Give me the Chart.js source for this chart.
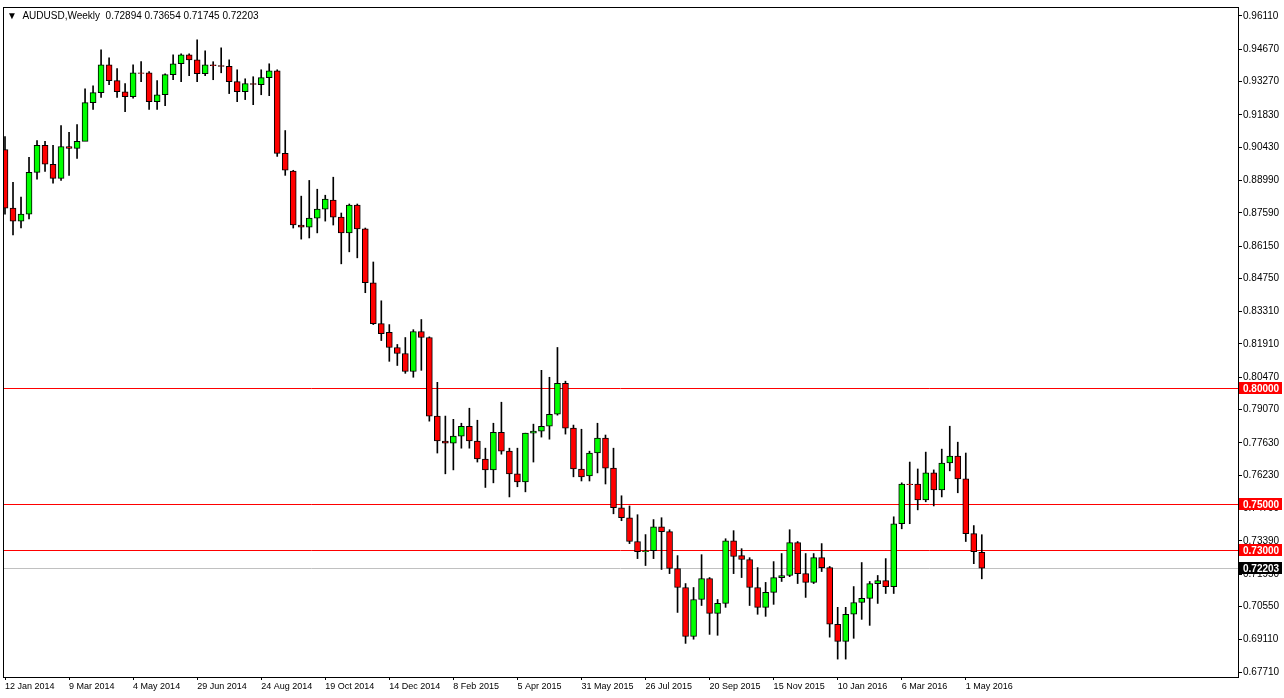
<!DOCTYPE html>
<html>
<head>
<meta charset="utf-8">
<script src="https://cdn.jsdelivr.net/npm/chart.js@4.4.1/dist/chart.umd.min.js"></script>
<style>
  html, body { margin: 0; padding: 0; background: #fff; }
  #wrap { width: 1284px; height: 698px; }
</style>
</head>
<body>
<div id="wrap"><canvas id="chart" width="1284" height="698"></canvas></div>
<script>
// weekly AUDUSD candles, first week 12 Jan 2014
const opens = [0.9033,0.8779,0.8723,0.8753,0.8934,0.9051,0.8969,0.8908,0.9046,0.9038,
  0.9068,0.9236,0.9279,0.9400,0.9331,0.9283,0.9262,0.9365,0.9365,0.9240,
  0.9270,0.9357,0.9404,0.9443,0.9421,0.9361,0.9400,0.9396,0.9393,0.9327,
  0.9283,0.9318,0.9314,0.9344,0.9374,0.9016,0.8939,0.8706,0.8697,0.8736,
  0.8775,0.8814,0.8740,0.8672,0.8792,0.8689,0.8456,0.8279,0.8241,0.8176,
  0.8150,0.8072,0.8245,0.8219,0.7879,0.7771,0.7762,0.7792,0.7835,0.7771,
  0.7693,0.7646,0.7809,0.7727,0.7629,0.7594,0.7805,0.7814,0.7835,0.7887,
  0.8021,0.7827,0.7650,0.7620,0.7719,0.7784,0.7654,0.7482,0.7439,0.7336,
  0.7292,0.7296,0.7400,0.7379,0.7219,0.7137,0.6925,0.7085,0.7176,0.7025,
  0.7068,0.7339,0.7275,0.7258,0.7137,0.7051,0.7116,0.7180,0.7189,0.7331,
  0.7197,0.7159,0.7266,0.7223,0.6978,0.6904,0.7021,0.7072,0.7090,0.7154,
  0.7167,0.7141,0.7413,0.7585,0.7585,0.7516,0.7633,0.7559,0.7676,0.7706,
  0.7607,0.7370,0.72894];
const highs = [0.9089,0.8891,0.8827,0.8999,0.9072,0.9068,0.9051,0.9137,0.9107,0.9141,
  0.9296,0.9309,0.9464,0.9430,0.9383,0.9318,0.9400,0.9413,0.9370,0.9331,
  0.9361,0.9443,0.9447,0.9447,0.9508,0.9460,0.9413,0.9473,0.9421,0.9378,
  0.9339,0.9348,0.9378,0.9404,0.9378,0.9115,0.8943,0.8831,0.8899,0.8861,
  0.8835,0.8913,0.8758,0.8797,0.8797,0.8693,0.8546,0.8378,0.8275,0.8189,
  0.8219,0.8253,0.8297,0.8222,0.8025,0.7879,0.7865,0.7848,0.7913,0.7861,
  0.7740,0.7848,0.7939,0.7740,0.7740,0.7805,0.7844,0.8077,0.8047,0.8176,
  0.8030,0.7840,0.7822,0.7727,0.7848,0.7797,0.7740,0.7534,0.7490,0.7452,
  0.7366,0.7431,0.7439,0.7387,0.7275,0.7154,0.7137,0.7279,0.7180,0.7085,
  0.7348,0.7383,0.7305,0.7266,0.7223,0.7159,0.7249,0.7284,0.7387,0.7336,
  0.7284,0.7284,0.7327,0.7228,0.7051,0.7051,0.7141,0.7245,0.7163,0.7189,
  0.7262,0.7443,0.7590,0.7680,0.7650,0.7723,0.7646,0.7736,0.7835,0.7766,
  0.7719,0.7405,0.73654];
const lows = [0.8753,0.8663,0.8693,0.8732,0.8904,0.8938,0.8887,0.8899,0.8921,0.8994,
  0.9081,0.9206,0.9258,0.9314,0.9258,0.9197,0.9255,0.9327,0.9206,0.9206,
  0.9223,0.9335,0.9327,0.9352,0.9327,0.9352,0.9335,0.9365,0.9275,0.9240,
  0.9249,0.9227,0.9270,0.9266,0.9003,0.8921,0.8693,0.8645,0.8650,0.8672,
  0.8723,0.8706,0.8538,0.8590,0.8564,0.8413,0.8275,0.8206,0.8116,0.8098,
  0.8064,0.8047,0.8077,0.7857,0.7719,0.7629,0.7646,0.7740,0.7740,0.7680,
  0.7570,0.7590,0.7714,0.7529,0.7573,0.7551,0.7680,0.7788,0.7779,0.7883,
  0.7801,0.7616,0.7598,0.7598,0.7633,0.7585,0.7456,0.7426,0.7327,0.7262,
  0.7232,0.7262,0.7215,0.7197,0.7029,0.6895,0.6913,0.7059,0.6934,0.6930,
  0.7051,0.7197,0.7180,0.7059,0.7021,0.7012,0.7064,0.7163,0.7184,0.7154,
  0.7094,0.7154,0.7206,0.6922,0.6827,0.6827,0.6917,0.6999,0.6973,0.7068,
  0.7111,0.7111,0.7391,0.7413,0.7473,0.7508,0.7490,0.7529,0.7642,0.7547,
  0.7336,0.7240,0.71745];
const closes = [0.8779,0.8723,0.8753,0.8934,0.9051,0.8969,0.8908,0.9046,0.9038,0.9068,
  0.9236,0.9279,0.9400,0.9331,0.9283,0.9262,0.9365,0.9362,0.9240,0.9270,
  0.9357,0.9404,0.9443,0.9421,0.9361,0.9400,0.9396,0.9393,0.9327,0.9283,
  0.9318,0.9315,0.9344,0.9374,0.9016,0.8943,0.8706,0.8697,0.8736,0.8775,
  0.8818,0.8740,0.8672,0.8792,0.8689,0.8456,0.8279,0.8236,0.8176,0.8150,
  0.8072,0.8245,0.8219,0.7879,0.7771,0.7762,0.7792,0.7835,0.7771,0.7693,
  0.7646,0.7809,0.7727,0.7629,0.7594,0.7805,0.7814,0.7835,0.7887,0.8021,
  0.7827,0.7650,0.7616,0.7719,0.7784,0.7654,0.7482,0.7439,0.7336,0.7292,
  0.7296,0.7400,0.7379,0.7219,0.7137,0.6925,0.7085,0.7176,0.7025,0.7068,
  0.7339,0.7271,0.7258,0.7137,0.7051,0.7116,0.7180,0.7189,0.7331,0.7197,
  0.7159,0.7266,0.7223,0.6978,0.6904,0.7021,0.7072,0.7090,0.7154,0.7167,
  0.7141,0.7413,0.7585,0.7582,0.7516,0.7633,0.7559,0.7676,0.7706,0.7607,
  0.7370,0.7292,0.72203];

const dateLabels = ["12 Jan 2014","9 Mar 2014","4 May 2014","29 Jun 2014","24 Aug 2014",
  "19 Oct 2014","14 Dec 2014","8 Feb 2015","5 Apr 2015","31 May 2015","26 Jul 2015",
  "20 Sep 2015","15 Nov 2015","10 Jan 2016","6 Mar 2016","1 May 2016"];
const dateStep = 8; // weeks between labels

const priceTicks = [0.96110,0.94670,0.93270,0.91830,0.90430,0.88990,0.87590,0.86150,
  0.84750,0.83310,0.81910,0.80470,0.79070,0.77630,0.76230,0.74790,0.73390,0.71950,
  0.70550,0.69110,0.67710];

const levels = [0.80000, 0.75000, 0.73000];
const lastPrice = closes[closes.length - 1];

const wicks = lows.map((l, i) => ({ x: i, y: [l, highs[i]] }));
const bodies = opens.map((o, i) => ({ x: i, y: [o, closes[i]] }));
const bodyColors = opens.map((o, i) => (closes[i] >= o ? "#00ff00" : "#ff0000"));

const FONT = "Liberation Sans";

// level lines, price tags, header text
const overlay = {
  id: "overlay",
  beforeDatasetsDraw(chart) {
    const { ctx, chartArea: a, scales: { y } } = chart;
    ctx.save();
    ctx.lineWidth = 1;
    ctx.strokeStyle = "#c0c0c0";
    let py = Math.round(y.getPixelForValue(lastPrice)) + 0.5;
    ctx.beginPath(); ctx.moveTo(a.left, py); ctx.lineTo(a.right, py); ctx.stroke();
    ctx.strokeStyle = "#ff0000";
    levels.forEach((v) => {
      const ly = Math.round(y.getPixelForValue(v)) + 0.5;
      ctx.beginPath(); ctx.moveTo(a.left, ly); ctx.lineTo(a.right, ly); ctx.stroke();
    });
    ctx.restore();
  },
  afterDraw(chart) {
    const { ctx, chartArea: a, scales: { y } } = chart;
    ctx.save();
    ctx.strokeStyle = "#000";
    ctx.lineWidth = 1;
    ctx.strokeRect(a.left + 0.5, a.top + 0.5, a.right - a.left, a.bottom - a.top);
    ctx.font = "bold 10px " + FONT;
    ctx.textBaseline = "middle";
    const tag = (v, bg) => {
      const ty = Math.round(y.getPixelForValue(v));
      ctx.fillStyle = bg;
      ctx.fillRect(a.right + 1, ty - 6, 43, 12);
      ctx.fillStyle = "#fff";
      ctx.fillText(v.toFixed(5), a.right + 5, ty + 1);
    };
    levels.forEach((v) => tag(v, "#ff0000"));
    tag(lastPrice, "#000");
    ctx.fillStyle = "#000";
    ctx.font = "10px " + FONT;
    ctx.fillText("\u25BC  AUDUSD,Weekly  " + [opens, highs, lows, closes]
      .map((s) => s[s.length - 1].toFixed(5)).join(" "), a.left + 4, a.top + 9);
    ctx.restore();
  },
};

new Chart(document.getElementById("chart"), {
  type: "bar",
  data: {
    datasets: [
      { data: wicks, backgroundColor: "#000", barThickness: 1, order: 2 },
      { data: bodies, backgroundColor: bodyColors, borderColor: "#000",
        borderWidth: 1, borderSkipped: false, barThickness: 6, order: 1 },
    ],
  },
  options: {
    responsive: false,
    animation: false,
    layout: { padding: { left: 3, top: 3, right: 2 } },
    plugins: { legend: { display: false }, tooltip: { enabled: false } },
    datasets: { bar: { grouped: false } },
    scales: {
      x: {
        type: "linear", min: -0.25, max: 154, offset: false,
        afterBuildTicks: (s) => { s.ticks = dateLabels.map((d, i) => ({ value: i * dateStep })); },
        afterFit: (s) => { s.height = 21; },
        grid: { drawOnChartArea: false, offset: false, tickLength: 3, color: "#000" },
        border: { display: false },
        ticks: {
          autoSkip: false, maxRotation: 0, align: "start", padding: 1,
          color: "#000", font: { family: FONT, size: 9 },
          callback: (v) => dateLabels[Math.round(v / dateStep)],
        },
      },
      y: {
        position: "right", min: 0.67495, max: 0.96498,
        afterBuildTicks: (s) => { s.ticks = priceTicks.map((v) => ({ value: v })); },
        afterFit: (s) => { s.width = 44; },
        grid: { drawOnChartArea: false, tickLength: 4, color: "#000" },
        border: { display: false },
        ticks: {
          padding: 1, color: "#000", font: { family: FONT, size: 10 },
          callback: (v) => v.toFixed(5),
        },
      },
    },
  },
  plugins: [overlay],
});
</script>
</body>
</html>
